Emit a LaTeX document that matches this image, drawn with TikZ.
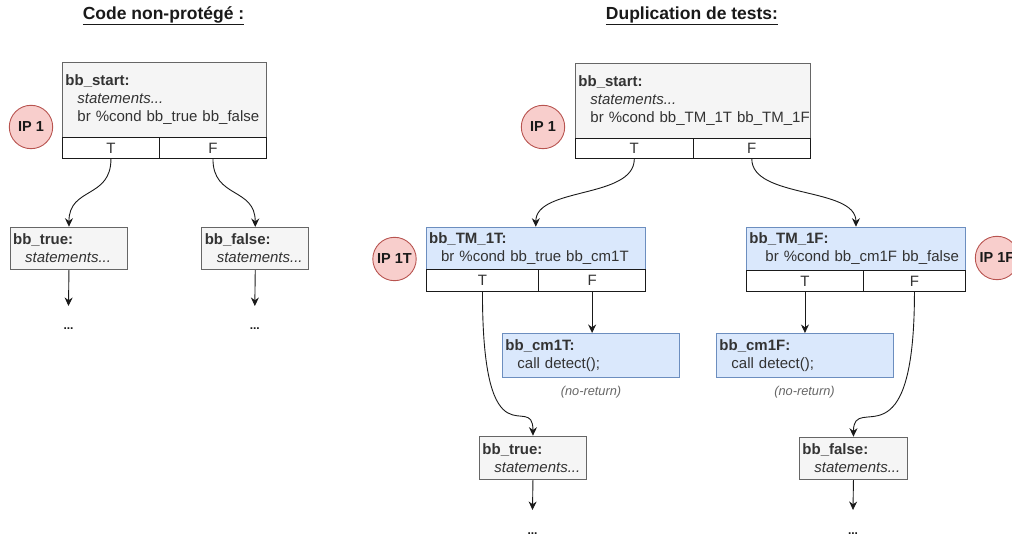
\documentclass[tikz,border=0pt]{standalone}
\usepackage{fontspec}
\setmainfont{Liberation Sans}
\usetikzlibrary{arrows.meta}
\definecolor{grayfill}{HTML}{F5F5F5}
\definecolor{grayline}{HTML}{666666}
\definecolor{bluefill}{HTML}{DAE8FC}
\definecolor{blueline}{HTML}{6C8EBF}
\definecolor{redfill}{HTML}{F8CECC}
\definecolor{redline}{HTML}{B85450}
\definecolor{txt}{HTML}{333333}
\definecolor{edge}{HTML}{1A1A1A}
\begin{document}
\begin{tikzpicture}[x=1pt,y=-1pt,
  every node/.style={font=\fontsize{15}{18}\selectfont, text=txt},
  blk/.style={draw=grayline, fill=grayfill, line width=0.9pt, inner xsep=3pt, inner ysep=0pt, align=left, anchor=north west},
  bblk/.style={blk, draw=blueline, fill=bluefill},
  cell/.style={draw=edge, fill=white, line width=0.9pt, inner sep=0pt, anchor=north west, align=center},
  ip/.style={circle, draw=redline, fill=redfill, line width=0.9pt, minimum size=43.4pt, inner sep=0pt, font=\fontsize{14.5}{17}\selectfont\bfseries, text=black!90},
  arr/.style={draw=edge, line width=0.9pt, -{Stealth[length=8.5pt,width=8pt]}},
  ttl/.style={font=\fontsize{17.5}{21}\selectfont\bfseries, text=black!90},
  dots/.style={font=\fontsize{12}{14}\selectfont\bfseries, text=black!90, anchor=base},
  note/.style={font=\fontsize{12.8}{15}\selectfont\itshape, text=grayline}
]
\useasboundingbox (0,0) rectangle (1012,537);

% ---------- titles ----------
\node[ttl] (t1) at (163.5,16) {\underline{Code non-protégé :}};
\node[ttl] (t2) at (692,16) {\underline{Duplication de tests:}};

% ---------- left: unprotected ----------
\node[blk, minimum width=204pt, minimum height=75pt, text width=198pt] (s1) at (62,62)
  {\textbf{bb\_start:}\\\hspace*{12pt}\textit{statements...}\\\hspace*{12pt}\rlap{br \%cond bb\_true bb\_false}};
\node[cell, minimum width=97pt, minimum height=21pt] (s1T) at (62,137) {T};
\node[cell, minimum width=107pt, minimum height=21pt] (s1F) at (159,137) {F};
\node[ip] (ip1) at (31,127) {IP 1};

\node[blk, minimum width=117.6pt, minimum height=42.6pt, text width=111.6pt] (bt) at (9.7,226.7)
  {\textbf{bb\_true:}\\\hspace*{12pt}\textit{statements...}};
\node[blk, minimum width=107pt, minimum height=42.3pt, text width=101pt] (bf) at (201.3,227)
  {\textbf{bb\_false:}\\\hspace*{12pt}\rlap{\textit{statements...}}};

\draw[arr] (s1T.south) .. controls +(0,40) and +(0,-40) .. (bt.north);
\draw[arr] (s1F.south) .. controls +(0,40) and +(0,-40) .. (bf.north);

\coordinate (e1) at (68.5,306);
\coordinate (e2) at (254.8,306);
\draw[arr] (bt.south) -- (e1);
\draw[arr] (bf.south) -- (e2);
\node[dots] (d1) at (68.5,330) {...};
\node[dots] (d2) at (254.8,330) {...};

% ---------- right: duplicated tests ----------
\node[blk, minimum width=235pt, minimum height=75pt, text width=229pt] (r0) at (575,62.7)
  {\textbf{bb\_start:}\\\hspace*{12pt}\textit{statements...}\\\hspace*{12pt}\rlap{br \%cond bb\_TM\_1T bb\_TM\_1F}};
\node[cell, minimum width=117.7pt, minimum height=20.3pt] (r0T) at (575,137.7) {T};
\node[cell, minimum width=117.3pt, minimum height=20.3pt] (r0F) at (692.7,137.7) {F};
\node[ip] (ip2) at (543,127) {IP 1};

\node[bblk, minimum width=219.3pt, minimum height=42.3pt, text width=213.3pt] (tm1) at (425.7,226.7)
  {\textbf{bb\_TM\_1T:}\\\hspace*{12pt}\rlap{br \%cond bb\_true bb\_cm1T}};
\node[cell, minimum width=112.6pt, minimum height=21.7pt] (tm1T) at (425.7,269) {T};
\node[cell, minimum width=106.7pt, minimum height=21.7pt] (tm1F) at (538.3,269) {F};
\node[ip] (ip3) at (394.5,259) {IP 1T};

\node[bblk, minimum width=219pt, minimum height=43.3pt, text width=213pt] (tm2) at (746,226.7)
  {\textbf{bb\_TM\_1F:}\\\hspace*{16pt}\rlap{br \%cond bb\_cm1F bb\_false}};
\node[cell, minimum width=117pt, minimum height=21pt] (tm2T) at (746,270) {T};
\node[cell, minimum width=102pt, minimum height=21pt] (tm2F) at (863,270) {F};
\node[ip] (ip4) at (997,258) {IP 1F};

\node[bblk, minimum width=177pt, minimum height=43.7pt, text width=171pt] (cm1) at (502,333)
  {\textbf{bb\_cm1T:}\\\hspace*{12pt}call detect();};
\node[bblk, minimum width=177pt, minimum height=43.7pt, text width=171pt] (cm2) at (716,333)
  {\textbf{bb\_cm1F:}\\\hspace*{12pt}call detect();};
\node[note] (n1) at (591,392) {(no-return)};
\node[note] (n2) at (804.5,392) {(no-return)};

\node[blk, minimum width=107pt, minimum height=43.6pt, text width=101pt] (rt) at (479,435.7)
  {\textbf{bb\_true:}\\\hspace*{12pt}\rlap{\textit{statements...}}};
\node[blk, minimum width=108pt, minimum height=42.6pt, text width=102pt] (rf) at (799,436.7)
  {\textbf{bb\_false:}\\\hspace*{12pt}\rlap{\textit{statements...}}};

\draw[arr] (r0T.south) .. controls +(0,40) and +(0,-40) .. (tm1.north);
\draw[arr] (r0F.south) .. controls +(0,40) and +(0,-40) .. (tm2.north);
\draw[arr] (tm1F.south) -- (tm1F.south |- cm1.north);
\draw[arr] (tm2T.south) -- (tm2T.south |- cm2.north);
\draw[arr] (tm1T.south) .. controls +(0,179) and +(0,-46) .. (rt.north);
\draw[arr] (tm2F.south) .. controls +(0,179) and +(0,-46) .. (rf.north);

\coordinate (e3) at (532.5,510);
\coordinate (e4) at (853,510);
\draw[arr] (rt.south) -- (e3);
\draw[arr] (rf.south) -- (e4);
\node[dots] (d3) at (532.5,534) {...};
\node[dots] (d4) at (853,534) {...};
\end{tikzpicture}
\end{document}
